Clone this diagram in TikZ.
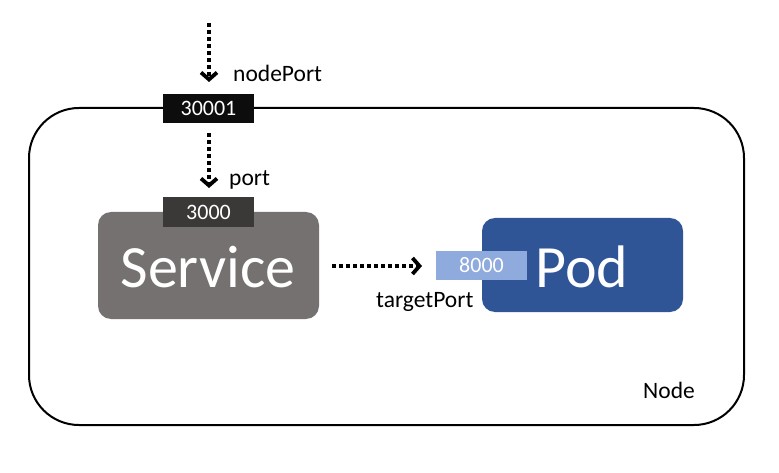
\documentclass[tikz,border=0pt]{standalone}
\usepackage{fontspec}
\setmainfont{Carlito}
\usetikzlibrary{arrows.meta}
\definecolor{svcgray}{HTML}{767171}
\definecolor{portdark}{HTML}{3B3838}
\definecolor{npblack}{HTML}{0D0D0D}
\definecolor{podblue}{HTML}{2F5597}
\definecolor{tpblue}{HTML}{8FAADC}
\tikzset{
  flow/.style={line width=3.2pt, dash pattern=on 4pt off 3pt,
    -{Straight Barb[length=7pt,width=16pt,line width=3.8pt]}},
  portbox/.style={minimum width=91pt, minimum height=29.5pt, inner sep=0pt,
    text=white, font=\fontsize{22}{22}\selectfont},
  bigbox/.style={rounded corners=13pt, inner sep=0pt, text=white,
    font=\fontsize{60}{60}\selectfont},
  lbl/.style={font=\fontsize{23.5}{23.5}\selectfont, inner sep=0pt, anchor=base west}
}
\begin{document}
\begin{tikzpicture}[x=1pt,y=-1pt]
\useasboundingbox (0,0) rectangle (779,473);
% Node frame
\draw[line width=2pt, rounded corners=50pt] (29,108) rectangle (744,425);
\node[lbl] (nodelbl) at (643,398) {Node};
% Service
\node[bigbox, fill=svcgray, minimum width=221pt, minimum height=107pt] (svc) at (208.5,265.5) {};
\node[font=\fontsize{60}{60}\selectfont, text=white, inner sep=0pt, anchor=base] (svctxt) at (208,287) {Service};
\node[portbox, fill=portdark] (p3000) at (208.5,212) {3000};
% Pod
\node[bigbox, fill=podblue, minimum width=201pt, minimum height=94pt] (pod) at (582.5,265) {};
\node[font=\fontsize{60}{60}\selectfont, text=white, inner sep=0pt, anchor=base] (podtxt) at (582,287) {Pod};
\node[portbox, fill=tpblue] (p8000) at (481.5,265.5) {8000};
% nodePort
\node[portbox, fill=npblack] (p30001) at (208.5,108.5) {30001};
% arrows
\coordinate (s1) at (209,23);
\coordinate (e1) at (209,82);
\draw[flow] (s1) -- (e1);
\coordinate (s2) at (209,133);
\coordinate (e2) at (209,188);
\draw[flow] (s2) -- (e2);
\coordinate (s3) at (332,266);
\coordinate (e3) at (422,266);
\draw[flow] (s3) -- (e3);
% labels
\node[lbl] (nplbl) at (233,82) {nodePort};
\node[lbl] (plbl) at (229,186) {port};
\node[lbl] (tplbl) at (376,307) {targetPort};
\end{tikzpicture}
\end{document}
